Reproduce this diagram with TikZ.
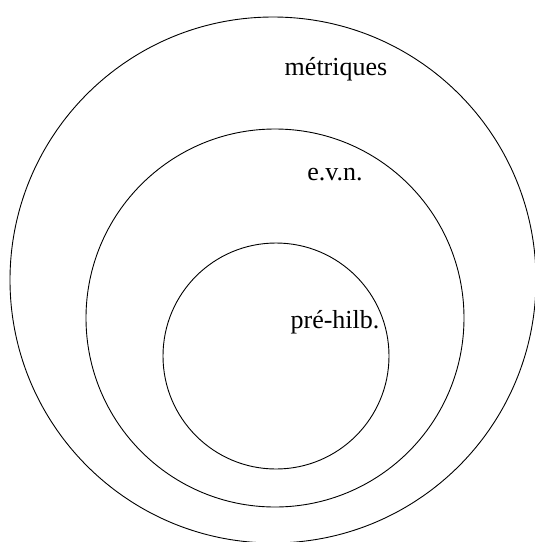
\documentclass[tikz,border=0pt]{standalone}
\usepackage{fontspec}
\setmainfont{Liberation Serif}
\begin{document}
\begin{tikzpicture}[x=1pt,y=-1pt,
  ring/.style={draw=black,line width=0.9pt},
  lbl/.style={font=\fontsize{26}{30}\selectfont,anchor=base,inner sep=0pt}]
\useasboundingbox (0,0) rectangle (535,542);
\draw[ring] (273,280) circle[radius=263];
\draw[ring] (275,318) circle[radius=189];
\draw[ring] (276,356) circle[radius=113];
\node[lbl] (met) at (336,75) {métriques};
\node[lbl] (evn) at (335,180) {e.v.n.};
\node[lbl] (pre) at (335,328) {pré-hilb.};
\end{tikzpicture}
\end{document}
